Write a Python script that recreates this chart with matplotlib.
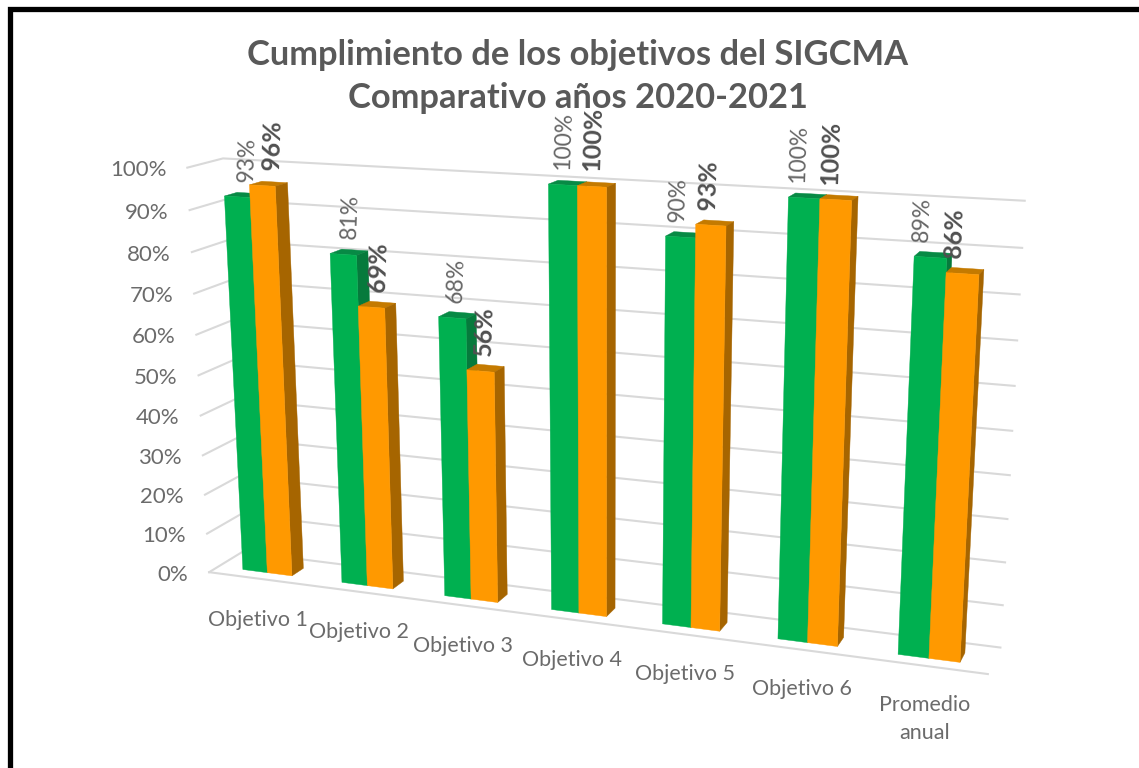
import matplotlib
matplotlib.use('Agg')
import matplotlib.pyplot as plt
import numpy as np

categorias = ['Objetivo 1', 'Objetivo 2', 'Objetivo 3', 'Objetivo 4', 'Objetivo 5', 'Objetivo 6', 'Promedio\nanual']
valores_2020 = [93, 81, 68, 100, 90, 100, 89]
valores_2021 = [96, 69, 56, 100, 93, 100, 86]
ticks = [0, 10, 20, 30, 40, 50, 60, 70, 80, 90, 100]

plt.rcParams['font.family'] = ['Lato', 'DejaVu Sans']

# puntos de calibracion de la perspectiva: (categoria, profundidad, valor) -> pixel
calib = [
    (0, 1, 0, 243, 552), (7, 1, 0, 1000, 648), (0, 1, 100, 222, 158), (7, 1, 100, 1025, 201),
    (0, 0, 0, 208, 572), (7, 0, 0, 988, 675), (0, 0, 100, 187, 168),
    (0.25, 0.28, 0, 244, 570), (0.75, 0.28, 0, 291, 575),
    (0.25, 0.28, 93, 226, 197), (0.75, 0.28, 96, 275, 186),
    (6.25, 0.28, 0, 899, 654), (6.75, 0.28, 0, 959, 662),
    (3.25, 0.28, 100, 550, 184), (3.75, 0.28, 100, 605, 187),
    (5.25, 0.28, 100, 790, 197), (5.75, 0.28, 100, 850, 200),
    (5.25, 0.28, 0, 779, 639), (5.75, 0.28, 0, 837, 646),
]

def fit_camera(pts):
    A = []
    for x, y, z, u, v in pts:
        A.append([x, y, z, 1, 0, 0, 0, 0, -u*x, -u*y, -u*z, -u])
        A.append([0, 0, 0, 0, x, y, z, 1, -v*x, -v*y, -v*z, -v])
    _, _, vt = np.linalg.svd(np.array(A, dtype=float))
    return vt[-1].reshape(3, 4)

cam = fit_camera(calib)

def proj(x, y, z):
    p = cam @ np.array([x, y, z, 1.0])
    return p[0] / p[2], p[1] / p[2]

def quad(ax, pts, color, zorder=3):
    xy = [proj(*p) for p in pts]
    ax.fill([q[0] for q in xy], [q[1] for q in xy], color=color, lw=0.3, zorder=zorder)

def bar(ax, x0, x1, val, front, side, top):
    y0, y1 = 0.28, 0.64
    quad(ax, [(x0, y0, val), (x1, y0, val), (x1, y1, val), (x0, y1, val)], top)
    quad(ax, [(x1, y0, 0), (x1, y1, 0), (x1, y1, val), (x1, y0, val)], side)
    quad(ax, [(x0, y0, 0), (x1, y0, 0), (x1, y0, val), (x0, y0, val)], front)

fig = plt.figure(figsize=(11.39, 7.68), dpi=100)
ax = fig.add_axes([0, 0, 1, 1])
ax.set_xlim(0, 1139)
ax.set_ylim(768, 0)
ax.axis('off')

# marco negro
ax.plot([9.5, 9.5, 1139], [768, 8.5, 8.5], color='black', lw=3.8, solid_joinstyle='miter')

# paredes
grid = '#d9d9d9'
n = len(categorias)
for t in ticks:
    a, b, c = proj(0, 0, t), proj(0, 1, t), proj(n, 1, t)
    ax.plot([a[0], b[0], c[0]], [a[1], b[1], c[1]], color=grid, lw=1.5, zorder=1)
    ax.text(a[0] - 21, a[1] + 2.5, f'{t}%', ha='right', va='center', fontsize=16, color='#6b6b6b')
a, b = proj(0, 0, 0), proj(n, 0, 0)
ax.plot([a[0], b[0]], [a[1], b[1]], color=grid, lw=1.5, zorder=1)

# barras
gap = 0.25
for i in range(n):
    mid = i + 0.5
    bar(ax, i + gap, mid, valores_2020[i], '#00b050', '#067a3c', '#078a45')
    bar(ax, mid, i + 1 - gap, valores_2021[i], '#ff9900', '#a66500', '#c47a00')

# etiquetas
for i in range(n):
    for k, (vals, xc) in enumerate([(valores_2020, i + 0.375), (valores_2021, i + 0.625)]):
        v = vals[i]
        px, py = proj(xc, 0.28, v)
        ax.text(px + 10 - 3 * i, py - 15, f'{v}%', rotation=88, ha='center', va='bottom',
                fontsize=16.5 if k == 0 else 18, color='#666666' if k == 0 else '#505050',
                fontweight='normal' if k == 0 else 'bold', zorder=5)
    px, py = proj(i + 0.5, 0, 0)
    ax.text(px, py + 31 - 0.3 * i, categorias[i], ha='center', va='top', fontsize=15.5,
            color='#6b6b6b', linespacing=1.5)

ax.text(578, 55, 'Cumplimiento de los objetivos del SIGCMA', ha='center', va='center',
        fontsize=24.8, fontweight='bold', color='#595959')
ax.text(578, 98, 'Comparativo años 2020-2021', ha='center', va='center',
        fontsize=24.8, fontweight='bold', color='#595959')

fig.savefig('out.png', dpi=100)
